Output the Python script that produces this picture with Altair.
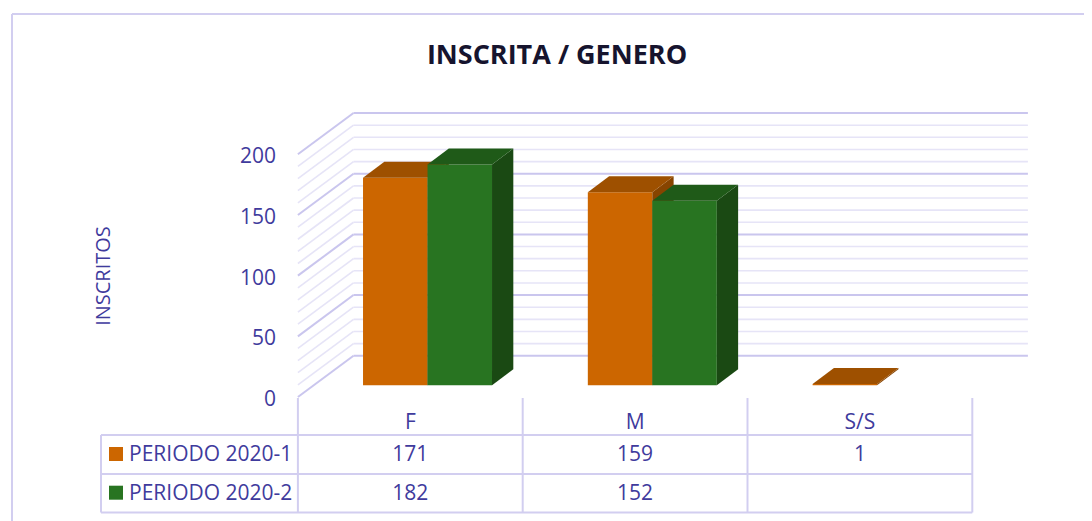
import altair as alt
import pandas as pd

# ---------------- data ----------------
categories = ["F", "M", "S/S"]
series_names = ["PERIODO 2020-1", "PERIODO 2020-2"]
values_2020_1 = [171, 159, 1]
values_2020_2 = [182, 152, None]
y_ticks = [0, 50, 100, 150, 200]
title_text = "INSCRITA / GENERO"
y_title = "INSCRITOS"

front_colors = ["#CC6600", "#287421"]
top_colors = ["#9E5000", "#1F5A18"]
side_colors = ["#874400", "#1A4913"]

# ---------------- layout (pixel -> data helpers) ----------------
W, H = 1076, 513
PX_X = 224.8    # px per category
PX_Y = 1.2135   # px per value unit
X0_PAGE = 410.3
Y0_PAGE = 397.0


def ux(px):
    return (px - X0_PAGE) / PX_X


def vy(py):
    return (Y0_PAGE - py) / PX_Y


XS = alt.Scale(domain=[ux(8), ux(8 + W)], nice=False, zero=False)
YS = alt.Scale(domain=[vy(8 + H), vy(8)], nice=False, zero=False)

WDX, WDY = 55.6 / PX_X, 34.0          # wall depth
FDX, FDY = 0.0766, vy(385.3)          # bar front plane offset
BW = 64.5 / PX_X                      # bar width
BDX, BDY = 21.3 / PX_X, 16.0 / PX_Y   # bar depth

TEXT = "#3F3B9D"
FONT = "Open Sans"


def X(f="x"):
    return alt.X(f"{f}:Q", scale=XS, axis=None, stack=None)


def Y(f="y"):
    return alt.Y(f"{f}:Q", scale=YS, axis=None, stack=None)


def rules(rows, color, width):
    return alt.Chart(pd.DataFrame(rows)).mark_rule(color=color, strokeWidth=width).encode(
        x=X(), x2="x2:Q", y=Y(), y2="y2:Q")


# ---------------- walls ----------------
major, minor = [], []
for L in range(0, 201, 10):
    back = dict(x=-0.5 + WDX, x2=2.5 + WDX, y=L + WDY, y2=L + WDY)
    left = dict(x=-0.5, x2=-0.5 + WDX, y=L, y2=L + WDY)
    (major if L % 50 == 0 else minor).extend([back, left])

layers = [rules(minor, "#E6E4F7", 1.6), rules(major, "#CAC6EE", 2)]

# ---------------- frame ----------------
frame = [dict(x=ux(12), x2=ux(8 + W), y=vy(14), y2=vy(14)),
         dict(x=ux(12), x2=ux(12), y=vy(14), y2=vy(8 + H))]
layers.append(rules(frame, "#D2CEF0", 2))

# ---------------- 3D bars ----------------
all_vals = [values_2020_1, values_2020_2]
for s in range(2):
    fronts, tops, sides = [], [], []
    for i, v in enumerate(all_vals[s]):
        if v is None:
            continue
        x0 = i + FDX - BW + s * BW
        x1 = x0 + BW
        base = FDY
        top = FDY + v
        fronts.append(dict(x=x0, x2=x1, y=base, y2=top, fill=front_colors[s]))
        key = f"{s}-{i}"
        tops.append(dict(face=key, y=top, x=x0, x2=x1, fill=top_colors[s]))
        tops.append(dict(face=key, y=top + BDY, x=x0 + BDX, x2=x1 + BDX, fill=top_colors[s]))
        sides.append(dict(face=key, x=x1, y=base, y2=top, fill=side_colors[s]))
        sides.append(dict(face=key, x=x1 + BDX, y=base + BDY, y2=top + BDY, fill=side_colors[s]))
    layers.append(alt.Chart(pd.DataFrame(fronts)).mark_rect().encode(
        x=X(), x2="x2:Q", y=Y(), y2="y2:Q",
        color=alt.Color("fill:N", scale=None, legend=None)))
    layers.append(alt.Chart(pd.DataFrame(sides)).mark_area(orient="vertical").encode(
        x=X(), y=Y(), y2="y2:Q", detail="face:N",
        color=alt.Color("fill:N", scale=None, legend=None)))
    layers.append(alt.Chart(pd.DataFrame(tops)).mark_area(orient="horizontal").encode(
        y=Y(), x=X(), x2="x2:Q", detail="face:N",
        color=alt.Color("fill:N", scale=None, legend=None)))

# ---------------- data table ----------------
T_TOP, T_MID, T_BOT = vy(435), vy(474), vy(512.5)
T_LEFT = ux(101)
tab = []
for yy in (T_TOP, T_MID, T_BOT):
    tab.append(dict(x=T_LEFT, x2=2.5, y=yy, y2=yy))
for b in (-0.5, 0.5, 1.5, 2.5):
    tab.append(dict(x=b, x2=b, y=vy(398), y2=T_BOT))
tab.append(dict(x=T_LEFT, x2=T_LEFT, y=T_TOP, y2=T_BOT))
layers.append(rules(tab, "#D2CEF0", 2))

txt_c, txt_l = [], []
for i, c in enumerate(categories):
    txt_c.append(dict(x=i, y=vy(429.3), t=c))
    for s, row_base in ((0, 461.3), (1, 500.0)):
        v = all_vals[s][i]
        if v is not None:
            txt_c.append(dict(x=i, y=vy(row_base), t=str(v)))
for s, row_base in ((0, 461.3), (1, 500.0)):
    txt_l.append(dict(x=ux(129), y=vy(row_base), t=series_names[s]))
for al, rows in (("center", txt_c), ("left", txt_l)):
    layers.append(alt.Chart(pd.DataFrame(rows)).mark_text(
        align=al, baseline="alphabetic", font=FONT, fontSize=21, color=TEXT).encode(
        x=X(), y=Y(), text="t:N"))

legend_sq = pd.DataFrame(dict(x=[ux(116), ux(116)], y=[vy(454), vy(492.7)],
                              fill=front_colors))
layers.append(alt.Chart(legend_sq).mark_square(size=196, opacity=1, filled=True).encode(
    x=X(), y=Y(), color=alt.Color("fill:N", scale=None, legend=None)))

# ---------------- y tick labels & title ----------------
ylab = pd.DataFrame(dict(x=[ux(276)] * len(y_ticks), y=[t - 9 / PX_Y for t in y_ticks],
                         t=[str(t) for t in y_ticks]))
layers.append(alt.Chart(ylab).mark_text(
    align="right", baseline="alphabetic", font=FONT, fontSize=21, color=TEXT).encode(
    x=X(), y=Y(), text="t:N"))

ytitle = pd.DataFrame(dict(x=[ux(110)], y=[vy(276)], t=[y_title]))
layers.append(alt.Chart(ytitle).mark_text(
    align="center", baseline="alphabetic", angle=270, font=FONT, fontSize=20, color=TEXT).encode(
    x=X(), y=Y(), text="t:N"))

ttl = pd.DataFrame(dict(x=[ux(557)], y=[vy(64.3)], t=[title_text]))
layers.append(alt.Chart(ttl).mark_text(
    align="center", baseline="alphabetic", font=FONT, fontSize=27, fontWeight="bold",
    color="#16142E").encode(x=X(), y=Y(), text="t:N"))

chart = alt.layer(*layers).properties(
    width=W, height=H, autosize=alt.AutoSizeParams(type="none"), padding=0
).configure_view(stroke=None)

chart.save("out.html", embed_options={"renderer": "svg", "actions": False})
